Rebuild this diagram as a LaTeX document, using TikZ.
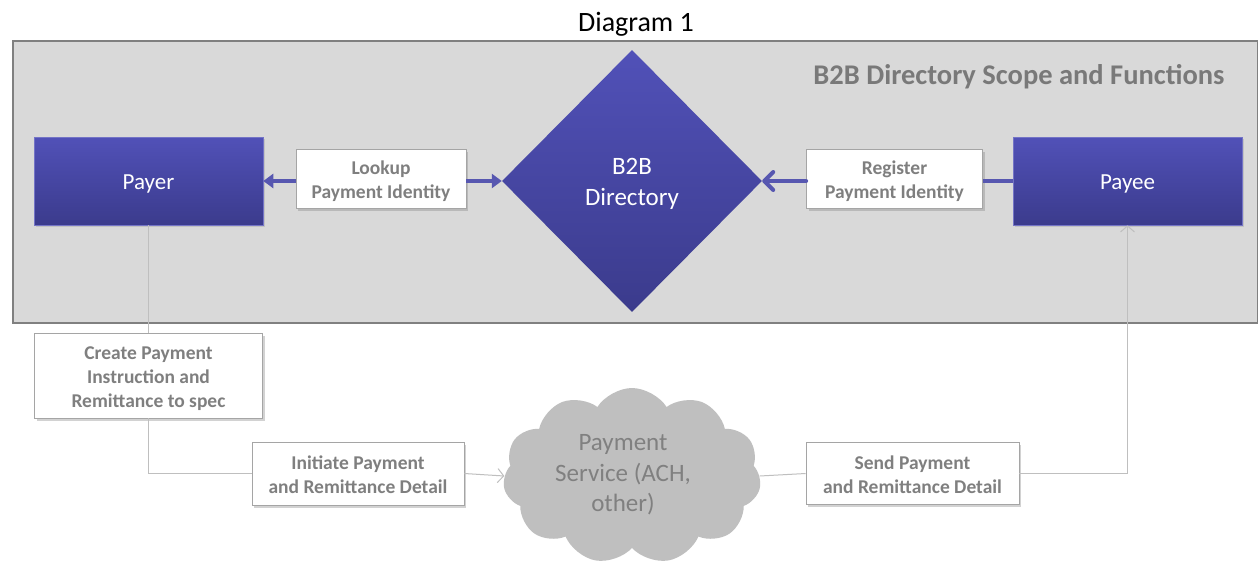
\documentclass[tikz,border=0pt]{standalone}
\usepackage{fontspec}
\setmainfont{Carlito}
\usetikzlibrary{arrows.meta,shapes.geometric,shapes.symbols,shadows}
\definecolor{panelfill}{HTML}{D9D9D9}
\definecolor{panelline}{HTML}{808080}
\definecolor{bluetop}{HTML}{5151B8}
\definecolor{bluebot}{HTML}{3B3B8C}
\definecolor{blueline}{HTML}{5757B0}
\definecolor{labelgrey}{HTML}{7F7F7F}
\definecolor{connline}{HTML}{BFBFBF}
\definecolor{cloudfill}{HTML}{BFBFBF}
\definecolor{cloudtext}{HTML}{808080}
\newcommand{\lowtext}[2][3pt]{\raisebox{-#1}[\height][\depth]{\begin{tabular}{@{}c@{}}#2\end{tabular}}}
\tikzset{
  bluebox/.style={rectangle, top color=bluetop, bottom color=bluebot, draw=bluetop!80!white, line width=0.6pt,
    text=white, font=\fontsize{23}{28}\selectfont, inner sep=0pt,
    drop shadow={shadow xshift=1.5pt, shadow yshift=-1.5pt, opacity=0.25}},
  labelbox/.style={rectangle, fill=white, draw=labelgrey!70, line width=0.8pt, text=labelgrey,
    font=\bfseries\fontsize{19.5}{24}\selectfont, inner sep=0pt,
    drop shadow={shadow xshift=2pt, shadow yshift=-2.5pt, opacity=0.35}},
  bluearrow/.style={draw=blueline, line width=4pt},
  thinconn/.style={draw=connline, line width=1pt},
}
\begin{document}
\begin{tikzpicture}[x=1pt,y=-1pt]
\useasboundingbox (0,0) rectangle (1258,563);
\fill[white] (0,0) rectangle (1258,563);
% title
\node[font=\fontsize{28}{34}\selectfont, text=black] (title) at (636,24) {Diagram 1};
% panel
\node[draw=panelline, fill=panelfill, line width=1.5pt, minimum width=1245pt, minimum height=282pt, inner sep=0pt, anchor=north west] (panel) at (12,40) {};
\node[font=\bfseries\fontsize{28.5}{34}\selectfont, text=labelgrey!95!black, anchor=east] (scope) at (1228,77) {B2B Directory Scope and Functions};
% blue boxes
\node[bluebox, minimum width=229pt, minimum height=88pt] (payer) at (148.5,181) {\lowtext{Payer}};
\node[bluebox, minimum width=229pt, minimum height=88pt] (payee) at (1127.5,181) {\lowtext{Payee}};
\node[diamond, top color=bluetop, bottom color=bluebot, draw=none, minimum width=260pt, minimum height=262pt, inner sep=0pt,
  text=white, font=\fontsize{25}{30.5}\selectfont] (dir) at (632,181) {\lowtext{B2B\\Directory}};
% label boxes upper
\node[labelbox, minimum width=170pt, minimum height=59pt] (lookup) at (381,178.5) {\lowtext{Lookup\\Payment Identity}};
\node[labelbox, minimum width=176pt, minimum height=59pt] (register) at (894.5,178.5) {\lowtext{Register\\Payment Identity}};
% blue arrows
\draw[bluearrow, -{Triangle[length=10pt,width=14pt]}] (lookup.west |- payer.east) -- (payer.east);
\draw[bluearrow, -{Triangle[length=10pt,width=14pt]}] (lookup.east |- dir.west) -- (dir.west);
\draw[bluearrow] (payee.west) -- (register.east |- payee.west);
\draw[bluearrow, line cap=round, -{Straight Barb[length=9pt,width=18pt,line width=4pt,round]}] (register.west |- dir.east) -- (dir.east);
% lower boxes
\node[labelbox, minimum width=228pt, minimum height=85pt] (create) at (148.5,375.5) {\lowtext{Create Payment\\Instruction and\\Remittance to spec}};
\node[labelbox, minimum width=212pt, minimum height=63pt] (initiate) at (358,473.5) {\lowtext{Initiate Payment\\and Remittance Detail}};
\node[labelbox, minimum width=213pt, minimum height=62pt] (send) at (912.5,473.5) {\lowtext{Send Payment\\and Remittance Detail}};
% cloud
\node[cloud, cloud puffs=11, cloud puff arc=115, aspect=1.45, fill=cloudfill, draw=none, minimum width=258pt, minimum height=176pt, inner sep=0pt] (cloud) at (632,476) {};
\node[text=cloudtext, font=\fontsize{25}{30.5}\selectfont] (cloudtxt) at (623,472) {\lowtext{Payment\\Service (ACH,\\other)}};
% connectors
\draw[thinconn] (payer.south) -- (create.north);
\coordinate (c1) at (create.south |- initiate.west);
\draw[thinconn] (create.south) -- (c1) -- (initiate.west);
\draw[thinconn, -{Straight Barb[length=6pt,width=14pt]}] (initiate.east) -- (cloud.west);
\draw[thinconn] (cloud.east) -- (send.west);
\coordinate (c2) at (payee.south |- send.east);
\draw[thinconn, -{Straight Barb[length=6pt,width=14pt]}] (send.east) -- (c2) -- (payee.south);
\end{tikzpicture}
\end{document}
